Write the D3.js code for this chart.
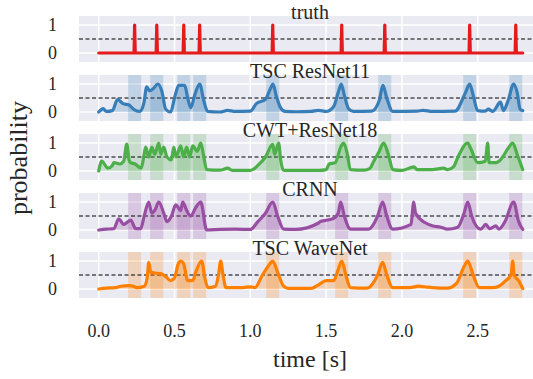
<!DOCTYPE html>
<html><head><meta charset="utf-8">
<script src="https://cdn.jsdelivr.net/npm/d3@7"></script>
<style>body{margin:0;background:#fff}svg{display:block}</style>
</head><body>
<svg id="c" width="533" height="379"></svg>
<script>
const panelTitles = ["truth","TSC ResNet11","CWT+ResNet18","CRNN","TSC WaveNet"];
const panelColors = ["#e41a1c","#377eb8","#4daf4a","#984ea3","#ff7f00"];
const xTicks = [0.0,0.5,1.0,1.5,2.0,2.5];
const yTicks = [0,1];
const threshold = 0.5;
const tEnd = 2.797;
const truthEvents = [0.237,0.383,0.561,0.666,1.148,1.603,1.887,2.447,2.751];
const windowHalf = 0.043;

const resnet11 = [[0,0],[0.03,0.12],[0.05,0.02],[0.09,0.05],[0.125,0.45],[0.16,0.3],[0.2,0.25],[0.23,0.1],[0.27,0.02],[0.297,0.3],[0.317,0.9],[0.336,0.75],[0.363,0.85],[0.389,1.0],[0.416,0.75],[0.442,0.1],[0.475,0.0],[0.5,0.5],[0.528,0.95],[0.567,0.95],[0.587,0.5],[0.607,0.15],[0.633,0.6],[0.666,1.0],[0.693,0.4],[0.719,0.02],[0.8,0.0],[0.85,0.06],[0.9,0.02],[1.0,0.03],[1.04,0.3],[1.1,0.45],[1.13,0.8],[1.15,1.0],[1.17,0.6],[1.2,0.15],[1.23,0.02],[1.3,0.01],[1.4,0.02],[1.45,0.06],[1.5,0.02],[1.55,0.2],[1.58,0.7],[1.6,1.0],[1.62,0.6],[1.65,0.1],[1.68,0.02],[1.8,0.03],[1.85,0.4],[1.875,0.95],[1.9,0.5],[1.94,0.02],[2.1,0.03],[2.14,0.06],[2.2,0.02],[2.35,0.03],[2.42,0.7],[2.447,1.0],[2.47,0.6],[2.5,0.05],[2.55,0.03],[2.57,0.1],[2.6,0.02],[2.65,0.35],[2.67,0.05],[2.7,0.4],[2.737,1.0],[2.76,0.7],[2.78,0.1],[2.797,0.05]];

const cwtResnet18 = [[0,0],[0.02,0.35],[0.05,0.15],[0.06,0.1],[0.09,0.2],[0.1,0.3],[0.14,0.25],[0.165,0.35],[0.185,0.96],[0.2,0.4],[0.21,0.3],[0.24,0.25],[0.28,0.1],[0.3,0.6],[0.31,0.85],[0.33,0.5],[0.35,0.85],[0.37,0.6],[0.396,1.0],[0.41,0.6],[0.429,0.85],[0.45,0.5],[0.48,0.4],[0.495,0.85],[0.51,0.5],[0.541,0.9],[0.56,0.5],[0.58,0.85],[0.6,0.5],[0.62,0.9],[0.65,0.7],[0.673,1.0],[0.69,0.6],[0.712,0.05],[0.8,0.03],[0.851,0.1],[0.88,0.02],[1.0,0.02],[1.05,0.2],[1.1,0.5],[1.148,0.95],[1.16,0.6],[1.187,1.0],[1.2,0.4],[1.22,0.02],[1.35,0.02],[1.45,0.02],[1.5,0.05],[1.52,0.25],[1.56,0.3],[1.6,0.9],[1.616,1.0],[1.64,0.6],[1.66,0.05],[1.75,0.03],[1.79,0.1],[1.81,0.3],[1.85,0.7],[1.88,1.0],[1.91,0.6],[1.94,0.05],[2.0,0.02],[2.08,0.15],[2.1,0.05],[2.2,0.05],[2.276,0.1],[2.3,0.05],[2.34,0.15],[2.37,0.5],[2.434,1.0],[2.454,0.8],[2.5,0.3],[2.55,0.35],[2.566,1.0],[2.575,0.3],[2.62,0.3],[2.65,0.4],[2.7,0.8],[2.731,1.0],[2.76,0.6],[2.797,0.05]];

const crnn = [[0,0],[0.05,0.03],[0.1,0.05],[0.132,0.4],[0.165,0.2],[0.211,0.35],[0.244,0.05],[0.277,0.05],[0.3,0.5],[0.33,1.0],[0.35,0.6],[0.37,0.7],[0.396,1.0],[0.429,0.6],[0.45,0.3],[0.48,0.5],[0.508,0.9],[0.541,0.7],[0.554,1.0],[0.58,0.7],[0.607,0.5],[0.64,0.8],[0.673,1.0],[0.712,0.0],[0.8,0.02],[0.9,0.03],[1.0,0.02],[1.05,0.3],[1.1,0.6],[1.148,1.0],[1.18,0.5],[1.22,0.03],[1.3,0.02],[1.45,0.25],[1.46,0.3],[1.5,0.35],[1.544,0.4],[1.58,0.6],[1.596,1.0],[1.62,0.5],[1.662,0.03],[1.78,0.03],[1.84,0.5],[1.873,1.0],[1.9,0.5],[1.939,0.03],[2.06,0.2],[2.078,1.0],[2.09,0.6],[2.157,0.25],[2.2,0.15],[2.256,0.1],[2.3,0.03],[2.368,0.1],[2.41,0.6],[2.434,1.0],[2.46,0.5],[2.52,0.03],[2.553,0.2],[2.58,0.05],[2.619,0.15],[2.64,0.03],[2.68,0.3],[2.737,1.0],[2.77,0.3],[2.797,0.02]];

const wavenet = [[0,0],[0.05,0.03],[0.11,0.05],[0.145,0.1],[0.2,0.12],[0.23,0.1],[0.25,0.05],[0.3,0.1],[0.32,0.4],[0.33,0.95],[0.343,0.6],[0.37,0.57],[0.41,0.55],[0.44,0.45],[0.475,0.3],[0.5,0.4],[0.525,0.9],[0.541,1.0],[0.56,0.9],[0.587,0.3],[0.62,0.3],[0.64,0.6],[0.679,1.0],[0.7,0.4],[0.72,0.05],[0.77,0.1],[0.79,0.5],[0.805,1.0],[0.82,0.5],[0.84,0.05],[0.95,0.05],[1.003,0.08],[1.03,0.05],[1.08,0.5],[1.13,0.9],[1.148,1.0],[1.18,0.6],[1.22,0.1],[1.25,0.02],[1.4,0.02],[1.45,0.15],[1.5,0.3],[1.55,0.3],[1.58,0.7],[1.603,1.0],[1.63,0.5],[1.66,0.05],[1.77,0.03],[1.84,0.5],[1.873,0.95],[1.9,0.5],[1.939,0.05],[2.05,0.05],[2.111,0.1],[2.15,0.08],[2.203,0.05],[2.3,0.03],[2.36,0.2],[2.41,0.8],[2.434,1.0],[2.47,0.5],[2.51,0.05],[2.6,0.05],[2.639,0.1],[2.685,0.3],[2.72,0.5],[2.731,1.0],[2.74,0.5],[2.77,0.3],[2.797,0.02]];

// truth series built from the event list
const truth = [[0,0]];
truthEvents.forEach(t => { truth.push([t-0.004,0],[t,1],[t+0.004,0]); });
truth.push([tEnd,0]);

const series = [truth, resnet11, cwtResnet18, crnn, wavenet];

const svg = d3.select("#c");
const font = "'Liberation Serif', 'DejaVu Serif', serif";
const plotLeft = 79, panelH = 46, panelStep = 59, firstTop = 16;
const x = d3.scaleLinear().domain([-0.13, 2.92]).range([plotLeft, plotLeft + 3.05*151.6]);

series.forEach((data, i) => {
  const top = firstTop + i*panelStep;
  const y = d3.scaleLinear().domain([-0.32, 1.32]).range([top + panelH, top]);
  const g = svg.append("g");
  g.append("rect").attr("x", plotLeft).attr("y", top).attr("width", 600).attr("height", panelH).attr("fill", "#eaeaf2");
  xTicks.forEach(t => g.append("line").attr("x1", x(t)).attr("x2", x(t)).attr("y1", top).attr("y2", top+panelH).attr("stroke", "#fff").attr("stroke-width", 1.5));
  yTicks.forEach(v => g.append("line").attr("x1", plotLeft).attr("x2", 560).attr("y1", y(v)).attr("y2", y(v)).attr("stroke", "#fff").attr("stroke-width", 1.5));
  if (i > 0) {
    truthEvents.forEach(t => g.append("rect").attr("x", x(t-windowHalf)).attr("y", top).attr("width", x(t+windowHalf)-x(t-windowHalf)).attr("height", panelH).attr("fill", panelColors[i]).attr("fill-opacity", 0.22));
  }
  g.append("line").attr("x1", plotLeft).attr("x2", 560).attr("y1", y(threshold)).attr("y2", y(threshold)).attr("stroke", "#000").attr("stroke-width", 1.2).attr("stroke-dasharray", "4,2.5");
  const curve = i > 0 ? d3.curveMonotoneX : d3.curveLinear;
  if (i > 0) {
    g.append("path").datum(data).attr("d", d3.area().curve(curve).x(d=>x(d[0])).y0(y(0)).y1(d=>y(d[1]))).attr("fill", panelColors[i]).attr("fill-opacity", 0.25);
  }
  g.append("path").datum(data).attr("d", d3.line().curve(curve).x(d=>x(d[0])).y(d=>y(d[1]))).attr("fill", "none").attr("stroke", panelColors[i]).attr("stroke-width", 3.2).attr("stroke-linejoin", "round").attr("stroke-linecap", "round");
  yTicks.forEach(v => g.append("text").attr("x", 57).attr("y", y(v)).attr("dy", "0.35em").attr("text-anchor", "end").attr("font-family", font).attr("font-size", 18).attr("fill", "#262626").text(v));
  g.append("text").attr("x", 310).attr("y", top + 2.5).attr("text-anchor", "middle").attr("font-family", font).attr("font-size", 20).attr("fill", "#262626").text(panelTitles[i]);
});

xTicks.forEach(t => svg.append("text").attr("x", x(t)).attr("y", 337).attr("text-anchor", "middle").attr("font-family", font).attr("font-size", 18).attr("fill", "#262626").text(d3.format(".1f")(t)));
svg.append("text").attr("x", 310).attr("y", 367).attr("text-anchor", "middle").attr("font-family", font).attr("font-size", 24).attr("fill", "#262626").text("time [s]");
svg.append("text").attr("transform", "translate(27,158) rotate(-90)").attr("text-anchor", "middle").attr("font-family", font).attr("font-size", 26).attr("fill", "#262626").text("probability");
</script>
</body></html>
